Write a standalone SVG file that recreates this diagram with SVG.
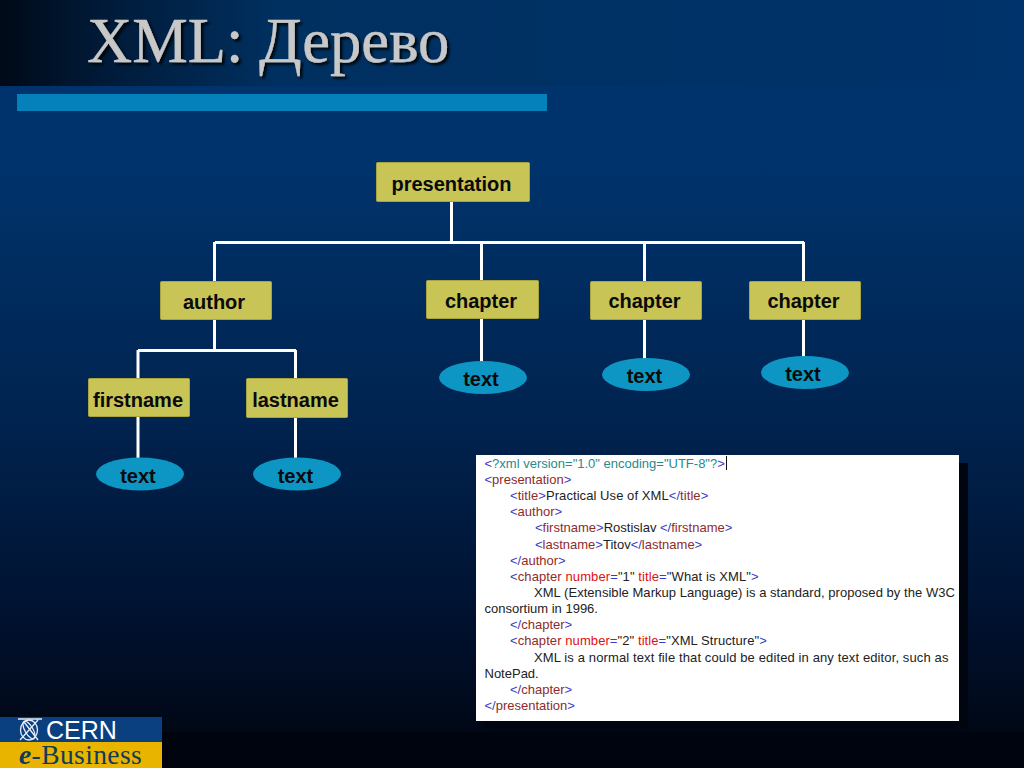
<svg xmlns="http://www.w3.org/2000/svg" width="1024" height="768" viewBox="0 0 1024 768">
<style>
.box{fill:#c8c455;stroke:#a8a440;stroke-width:1}
.ell{fill:#0d96c4}
.lbl{font:bold 20px "Liberation Sans",Arial,sans-serif;fill:#0a0a0a;text-anchor:middle}
.con{stroke:#fff;stroke-width:3;fill:none}
.code{font:13px "Liberation Sans",Arial,sans-serif;fill:#222}
.b{fill:#3a3ac8}.m{fill:#8e2b2b}.r{fill:#e01010}.t{fill:#2a8a8a}
</style>
<defs>
<linearGradient id="bg" x1="0" y1="0" x2="0" y2="1">
<stop offset="0" stop-color="#00336b"/><stop offset=".22" stop-color="#00336b"/><stop offset=".55" stop-color="#00234f"/><stop offset=".8" stop-color="#001230"/><stop offset="1" stop-color="#00050f"/>
</linearGradient>
<linearGradient id="top" x1="0" y1="0" x2="1" y2="0">
<stop offset="0" stop-color="#000a18"/><stop offset=".1" stop-color="#001a38"/><stop offset=".27" stop-color="#003060"/><stop offset="1" stop-color="#00336b"/>
</linearGradient>
<filter id="sh" x="-5%" y="-5%" width="110%" height="115%"><feDropShadow dx="2.5" dy="2.5" stdDeviation="1.2" flood-color="#000" flood-opacity=".85"/></filter>
</defs>
<rect width="1024" height="768" fill="url(#bg)"/>
<rect width="1024" height="86" fill="url(#top)"/>
<rect x="0" y="732" width="1024" height="36" fill="#00040f"/>
<rect x="17" y="94" width="530" height="17" fill="#0480bb"/>
<text x="87" y="62" font-family="'Liberation Serif','Times New Roman',serif" font-size="62.500" fill="#c8c8c8" stroke="#c8c8c8" stroke-width=".4" filter="url(#sh)">XML: Дерево</text>
<g id="connectors" class="con">
<path d="M451.500 202V242M215 242.500H804M214.500 242V281M481.500 242V280M644.500 242V281M803.500 242V281"/>
<path d="M214.500 320V350M138 350.500H296M138 350V379M295.500 350V379M138 417V459M295.500 417V459"/>
<path d="M481.500 319V362M644.500 319V359M803.500 319V357"/>
</g>
<g id="n-presentation"><rect class="box" x="376.500" y="162.500" width="153" height="39" rx="1"/><text class="lbl" x="451.500" y="191">presentation</text></g>
<g id="n-author"><rect class="box" x="160.500" y="281.500" width="111" height="38" rx="1"/><text class="lbl" x="214" y="309">author</text></g>
<g id="n-chapter1"><rect class="box" x="426.500" y="280.500" width="112" height="38" rx="1"/><text class="lbl" x="481" y="308">chapter</text></g>
<g id="n-chapter2"><rect class="box" x="590.500" y="281.500" width="111" height="38" rx="1"/><text class="lbl" x="644.500" y="308">chapter</text></g>
<g id="n-chapter3"><rect class="box" x="749.500" y="281.500" width="111" height="38" rx="1"/><text class="lbl" x="803.500" y="308">chapter</text></g>
<g id="n-firstname"><rect class="box" x="88.500" y="378.500" width="101" height="38" rx="1"/><text class="lbl" x="138" y="407">firstname</text></g>
<g id="n-lastname"><rect class="box" x="246.500" y="378.500" width="101" height="39" rx="1"/><text class="lbl" x="295.500" y="407">lastname</text></g>
<g id="n-text1"><ellipse class="ell" cx="483" cy="377.500" rx="44" ry="16.500"/><text class="lbl" x="481" y="386">text</text></g>
<g id="n-text2"><ellipse class="ell" cx="646" cy="374.500" rx="44" ry="16.500"/><text class="lbl" x="644.500" y="383">text</text></g>
<g id="n-text3"><ellipse class="ell" cx="805" cy="372.500" rx="44" ry="16.500"/><text class="lbl" x="803" y="381">text</text></g>
<g id="n-text4"><ellipse class="ell" cx="140" cy="474" rx="44" ry="16.500"/><text class="lbl" x="138" y="483">text</text></g>
<g id="n-text5"><ellipse class="ell" cx="297" cy="474" rx="44" ry="16.500"/><text class="lbl" x="295.500" y="483">text</text></g>
<g id="code-panel">
<rect x="484" y="463" width="484" height="266" fill="#000510"/>
<rect x="476" y="455" width="483" height="266" fill="#fff"/>
<rect x="726" y="456" width="1" height="14" fill="#111"/>
<g class="code">
<text x="484.500" y="468"><tspan class="b">&lt;</tspan><tspan class="t">?xml version="1.0" encoding="UTF-8"?</tspan><tspan class="b">&gt;</tspan></text>
<text x="484.500" y="484"><tspan class="b">&lt;</tspan><tspan class="m">presentation</tspan><tspan class="b">&gt;</tspan></text>
<text x="510" y="500" letter-spacing=".07"><tspan class="b">&lt;</tspan><tspan class="m">title</tspan><tspan class="b">&gt;</tspan>Practical Use of XML<tspan class="b">&lt;/</tspan><tspan class="m">title</tspan><tspan class="b">&gt;</tspan></text>
<text x="510" y="516"><tspan class="b">&lt;</tspan><tspan class="m">author</tspan><tspan class="b">&gt;</tspan></text>
<text x="535" y="532"><tspan class="b">&lt;</tspan><tspan class="m">firstname</tspan><tspan class="b">&gt;</tspan>Rostislav <tspan class="b">&lt;/</tspan><tspan class="m">firstname</tspan><tspan class="b">&gt;</tspan></text>
<text x="535" y="549"><tspan class="b">&lt;</tspan><tspan class="m">lastname</tspan><tspan class="b">&gt;</tspan>Titov<tspan class="b">&lt;/</tspan><tspan class="m">lastname</tspan><tspan class="b">&gt;</tspan></text>
<text x="510" y="565"><tspan class="b">&lt;/</tspan><tspan class="m">author</tspan><tspan class="b">&gt;</tspan></text>
<text x="510" y="581" letter-spacing=".1"><tspan class="b">&lt;</tspan><tspan class="m">chapter </tspan><tspan class="r">number</tspan><tspan class="b">=</tspan>"1" <tspan class="r">title</tspan><tspan class="b">=</tspan>"What is XML"<tspan class="b">&gt;</tspan></text>
<text x="534" y="597" letter-spacing=".045">XML (Extensible Markup Language) is a standard, proposed by the W3C</text>
<text x="484.500" y="613">consortium in 1996.</text>
<text x="510" y="629"><tspan class="b">&lt;/</tspan><tspan class="m">chapter</tspan><tspan class="b">&gt;</tspan></text>
<text x="510" y="645" letter-spacing=".08"><tspan class="b">&lt;</tspan><tspan class="m">chapter </tspan><tspan class="r">number</tspan><tspan class="b">=</tspan>"2" <tspan class="r">title</tspan><tspan class="b">=</tspan>"XML Structure"<tspan class="b">&gt;</tspan></text>
<text x="534" y="662" letter-spacing=".12">XML is a normal text file that could be edited in any text editor, such as</text>
<text x="484.500" y="678">NotePad.</text>
<text x="510" y="694"><tspan class="b">&lt;/</tspan><tspan class="m">chapter</tspan><tspan class="b">&gt;</tspan></text>
<text x="484.500" y="710"><tspan class="b">&lt;/</tspan><tspan class="m">presentation</tspan><tspan class="b">&gt;</tspan></text>
</g>
</g>
<g id="logo">
<rect x="0" y="717" width="162" height="25" fill="#0a3f80"/>
<rect x="0" y="742" width="162" height="26" fill="#e8b400"/>
<g fill="none" stroke="#e8eef5" stroke-width="1.300"><ellipse cx="29" cy="730" rx="8.500" ry="10"/><ellipse cx="29" cy="730" rx="4" ry="10" transform="rotate(-30 29 730)"/><path d="M18 719H42M20 740L38 720M38 740L24 722"/></g>
<text x="46" y="739" font-family="'Liberation Sans',Arial,sans-serif" font-size="25" fill="#fff">CERN</text>
<text x="19" y="764" font-family="'Liberation Serif','Times New Roman',serif" font-size="27.500" letter-spacing=".4" fill="#123a5c"><tspan font-style="italic" font-weight="bold">e</tspan>-Business</text>
</g>
</svg>
